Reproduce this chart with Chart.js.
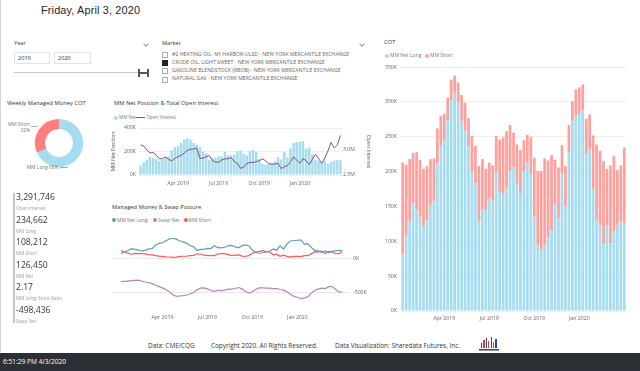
<!DOCTYPE html>
<html><head><meta charset="utf-8">
<script src="https://cdn.jsdelivr.net/npm/chart.js@4.4.1/dist/chart.umd.min.js"></script>
<style>
html,body{margin:0;padding:0;background:#fff;}
body{width:640px;height:371px;position:relative;overflow:hidden;font-family:"Open Sans",sans-serif;color:#333;}
.a{position:absolute;white-space:nowrap;line-height:1;}
canvas{position:absolute;}
.dot{position:absolute;width:4px;height:4px;border-radius:50%;}
.chev{position:absolute;width:3px;height:3px;border-right:1px solid #999;border-bottom:1px solid #999;transform:rotate(45deg);}
.cb{position:absolute;left:162px;width:4px;height:4px;border:0.8px solid #aaa;background:#fff;}
.mk{position:absolute;left:172px;font-size:5.2px;color:#666;white-space:nowrap;line-height:1;}
</style></head><body>
<div class="a" style="left:0;top:0;width:1px;height:352px;background:#d4d4d4"></div>
<div class="a" style="left:41px;top:5px;font-family:'Liberation Sans';font-size:10.9px;color:#252423;letter-spacing:0.15px">Friday, April 3, 2020</div>

<div class="a" style="left:14px;top:41px;font-size:5.6px;color:#333">Year</div>
<div class="chev" style="left:144px;top:41.5px"></div>
<div class="a" style="left:14px;top:52px;width:36px;height:12px;border:1px solid #e3e3e3;box-sizing:border-box"></div>
<div class="a" style="left:54px;top:52px;width:37px;height:12px;border:1px solid #e3e3e3;box-sizing:border-box"></div>
<div class="a" style="left:18px;top:56px;font-size:5.6px;color:#333">2019</div>
<div class="a" style="left:58px;top:56px;font-size:5.6px;color:#333">2020</div>
<div class="a" style="left:14px;top:72px;width:130px;height:1px;background:#c8c8c8"></div>
<div class="a" style="left:138px;top:69px;width:2px;height:8px;background:#555"></div>
<div class="a" style="left:147px;top:69px;width:2px;height:8px;background:#555"></div>
<div class="a" style="left:140px;top:72.3px;width:7px;height:1.6px;background:#555"></div>

<div class="a" style="left:162px;top:41px;font-size:5.6px;color:#333">Market</div>
<div class="chev" style="left:360px;top:41.5px"></div>
<div class="cb" style="top:51.5px"></div><div class="mk" style="top:51.6px">#2 HEATING OIL- NY HARBOR-ULSD - NEW YORK MERCANTILE EXCHANGE</div>
<div class="cb" style="top:60px;background:#222;border-color:#222"></div><div class="mk" style="top:60px">CRUDE OIL, LIGHT SWEET - NEW YORK MERCANTILE EXCHANGE</div>
<div class="cb" style="top:68px"></div><div class="mk" style="top:68.2px">GASOLINE BLENDSTOCK (RBOB) - NEW YORK MERCANTILE EXCHANGE</div>
<div class="cb" style="top:76.5px"></div><div class="mk" style="top:76.4px">NATURAL GAS - NEW YORK MERCANTILE EXCHANGE</div>

<div class="a" style="left:7px;top:101px;font-size:5.8px;color:#333">Weekly Managed Money COT</div>
<canvas id="c0" width="50" height="50" style="left:33.5px;top:118px"></canvas>
<div class="a" id="dShort" style="left:8px;top:121px;font-size:4.8px;color:#777;text-align:right;line-height:1.3"></div>
<div class="a" style="left:31px;top:126px;width:6px;height:0.6px;background:#aaa"></div>
<div class="a" id="dLong" style="left:27px;top:165px;font-size:4.8px;color:#777"></div>
<div class="a" style="left:60px;top:167px;width:8px;height:0.6px;background:#aaa"></div>

<div class="a" style="left:13px;top:193px;width:2px;height:130px;background:#c4c4c4"></div>
<div id="stats"></div>

<div class="a" style="left:114px;top:101px;font-size:5.8px;color:#333">MM Net Position &amp; Total Open Interest</div>
<div class="dot" style="left:114px;top:115.5px;background:#A5DCEF"></div>
<div class="a" style="left:119px;top:115px;font-size:4.6px;color:#777">MM Net</div>
<div class="a" style="left:136px;top:117px;width:9px;height:1px;background:#7E5380"></div>
<div class="a" style="left:146.5px;top:115px;font-size:4.6px;color:#777">Open Interest</div>
<canvas id="c1" width="262" height="70" style="left:110px;top:120px"></canvas>

<div class="a" style="left:112px;top:205px;font-size:5.8px;color:#333">Managed Money &amp; Swap Posture</div>
<div class="dot" style="left:112px;top:218px;background:#5E9DBA"></div>
<div class="a" style="left:117px;top:217.5px;font-size:4.9px;color:#777">MM Net Long</div>
<div class="dot" style="left:153px;top:218px;background:#B683BA"></div>
<div class="a" style="left:158px;top:217.5px;font-size:4.9px;color:#777">Swap Net</div>
<div class="dot" style="left:183.5px;top:218px;background:#FF5757"></div>
<div class="a" style="left:188.5px;top:217.5px;font-size:4.9px;color:#777">MM Short</div>
<canvas id="c2" width="262" height="103" style="left:110px;top:222px"></canvas>

<div class="a" style="left:384px;top:40px;font-size:5.8px;color:#333">COT</div>
<div class="dot" style="left:385px;top:53.5px;background:#A5DCEF"></div>
<div class="a" style="left:390px;top:53px;font-size:5px;color:#777">MM Net Long</div>
<div class="dot" style="left:425px;top:53.5px;background:#FFA09D"></div>
<div class="a" style="left:430px;top:53px;font-size:5px;color:#777">MM Short</div>
<canvas id="c3" width="262" height="270" style="left:370px;top:60px"></canvas>

<div class="a" style="left:148px;top:343px;font-size:6.4px;color:#333">Data: CME/CQG</div>
<div class="a" style="left:211px;top:343px;font-size:6.4px;color:#333">Copyright 2020. All Rights Reserved.</div>
<div class="a" style="left:335px;top:343px;font-size:6.4px;color:#333">Data Visualization: Sharedata Futures, Inc.</div>
<div id="logo" class="a" style="left:478px;top:337px;width:22px;height:15px"></div>

<div class="a" style="left:0;top:353px;width:640px;height:18px;background:#2C3036"></div>
<div class="a" style="left:3px;top:359px;font-size:6.6px;color:#fff">6:51:29 PM 4/3/2020</div>

<script>
// ---- data ----
const weeks = ['2019-01-08','2019-01-15','2019-01-22','2019-01-29','2019-02-05','2019-02-12','2019-02-19','2019-02-26',
'2019-03-05','2019-03-12','2019-03-19','2019-03-26','2019-04-02','2019-04-09','2019-04-16','2019-04-23','2019-04-30',
'2019-05-07','2019-05-14','2019-05-21','2019-05-28','2019-06-04','2019-06-11','2019-06-18','2019-06-25',
'2019-07-02','2019-07-09','2019-07-16','2019-07-23','2019-07-30','2019-08-06','2019-08-13','2019-08-20','2019-08-27',
'2019-09-03','2019-09-10','2019-09-17','2019-09-24','2019-10-01','2019-10-08','2019-10-15','2019-10-22','2019-10-29',
'2019-11-05','2019-11-12','2019-11-19','2019-11-26','2019-12-03','2019-12-10','2019-12-17','2019-12-24','2019-12-31',
'2020-01-07','2020-01-14','2020-01-21','2020-01-28','2020-02-04','2020-02-11','2020-02-18','2020-02-25',
'2020-03-03','2020-03-10','2020-03-17','2020-03-24','2020-03-31'];
const quarterTickIndex = [12,25,38,51];
const quarterTickText = ['Apr 2019','Jul 2019','Oct 2019','Jan 2020'];
// thousands of contracts
const mmNetLong = [81,108,129,155,146,135,121,131,152,157,212,237,245,274,302,313,300,272,258,236,
200,183,129,146,145,161,158,199,171,168,177,201,206,182,168,201,213,197,135,95,
87,94,105,116,153,133,198,150,228,272,279,283,288,225,232,175,131,123,96,123,
97,114,123,129,126.45];
const mmShort = [132,102,89,72,82,82,83,77,66,62,50,43,38,32,30,25,28,38,41,41,
51,54,79,72,59,52,51,52,75,81,81,66,50,57,63,44,40,53,85,106,
114,125,111,108,64,73,40,58,39,29,39,38,37,51,50,77,108,107,119,81,
112,108,79,80,108.21];
const swapNet = [-343,-338,-333,-328,-323,-318,-333,-348,-358,-372,-397,-417,-436,-466,-495,-539,-564,-559,-554,-544,
-529,-505,-466,-441,-436,-451,-475,-490,-470,-480,-470,-456,-456,-446,-431,-451,-490,-515,-495,-456,
-436,-436,-441,-441,-446,-446,-461,-470,-500,-534,-564,-578,-598,-588,-573,-515,-475,-456,-441,-446,
-421,-412,-456,-500,-498.44];
// millions of contracts
const openInterest = [3.100,3.081,3.001,2.941,2.948,2.900,2.821,2.827,2.861,2.814,2.781,2.834,2.868,2.894,2.941,2.994,3.014,3.021,3.040,2.834,
2.834,2.868,2.888,2.787,2.760,2.755,2.801,2.821,2.827,2.847,2.767,2.734,2.634,2.654,2.727,2.755,2.748,2.767,2.787,2.821,
2.787,2.727,2.714,2.721,2.734,2.627,2.668,2.688,2.767,2.861,2.794,2.734,2.827,2.787,2.707,2.814,2.914,2.834,2.727,2.841,
2.981,3.154,3.040,3.100,3.292];
const donutLabels = ['MM Long','MM Short'];
const donutValues = [234662,108212];
const statValues = ['3,291,746','234,662','108,212','126,450','2.17','-498,436'];
const statLabels = ['Open Interest','MM Long','MM Short','MM Net','MM Long: Short Ratio','Swap Net'];
const netPosTicks = [0,200,400];
const oiTicks = [2.5,3.0];
const swapTicks = [0,-500];

// ---- colours ----
const BLUE='#A5DCEF', RED='#FFA09D', OI='#7E5380', L_BLUE='#5E9DBA', L_PURP='#B683BA', L_RED='#FF5757';
const TICK='#666';
Chart.defaults.font.family='"Open Sans", sans-serif';
Chart.defaults.animation=false;
Chart.defaults.responsive=false;
Chart.defaults.devicePixelRatio=1;
Chart.defaults.plugins.legend.display=false;
Chart.defaults.plugins.tooltip.enabled=false;

const qLabel = i => { const k = quarterTickIndex.indexOf(i); return k>=0 ? quarterTickText[k] : ''; };

// stats
let sh='';
const sTop=[192.5,215.5,238,260.5,283,305.5];
statValues.forEach((v,i)=>{
  sh+=`<div class="a" style="left:16px;top:${sTop[i]}px;font-size:8.6px;color:#333">${v}</div>`;
  sh+=`<div class="a" style="left:16px;top:${sTop[i]+13}px;font-size:4.6px;color:#9a9a9a">${statLabels[i]}</div>`;
});
document.getElementById('stats').innerHTML=sh;

// donut labels
const tot = donutValues[0]+donutValues[1];
document.getElementById('dShort').innerHTML = donutLabels[1]+'<br>'+Math.round(donutValues[1]/tot*100)+'%';
document.getElementById('dLong').textContent = donutLabels[0]+' '+Math.round(donutValues[0]/tot*100)+'%';

// logo
const lh=[5,8,10,7,11,6,9];
let lg='';
lh.forEach((h,i)=>{ lg+=`<div class="a" style="left:${3+i*2.4}px;top:${11-h}px;width:1.2px;height:${h}px;background:${i%2?'#D23A3A':'#2B4A9A'}"></div>`; });
lg+='<div class="a" style="left:1px;top:11.5px;width:20px;height:0.8px;background:#2B4A9A"></div>';
lg+='<div class="a" style="left:1px;top:13px;width:20px;height:0.6px;background:#999"></div>';
document.getElementById('logo').innerHTML=lg;

// donut
new Chart(document.getElementById('c0'),{type:'doughnut',
  data:{labels:donutLabels,datasets:[{data:donutValues,backgroundColor:[BLUE,'#FF7F7F'],borderWidth:0}]},
  options:{cutout:'58%',layout:{padding:1}}});

// chart 1: MM net position & OI
new Chart(document.getElementById('c1'),{
  data:{labels:weeks,datasets:[
    {type:'line',data:openInterest,yAxisID:'y2',borderColor:OI,borderWidth:1,pointRadius:0,tension:0},
    {type:'bar',data:mmNetLong,yAxisID:'y',backgroundColor:BLUE,barPercentage:0.8,categoryPercentage:1}
  ]},
  options:{layout:{padding:{top:8,left:0,right:0,bottom:0}},
    scales:{
      x:{grid:{display:false,drawTicks:false},border:{display:false},
         ticks:{autoSkip:false,maxRotation:0,font:{size:5.2},color:TICK,padding:5,callback:(v,i)=>qLabel(i)},
         afterFit:s=>{s.height=15;}},
      y:{position:'left',min:0,max:400,
         afterBuildTicks:s=>{s.ticks=netPosTicks.map(v=>({value:v}));},
         ticks:{font:{size:5.2},color:TICK,padding:3,callback:v=>v+'K'},
         grid:{color:'#eeeeee',drawTicks:false},border:{display:false},
         title:{display:true,text:'MM Net Position',font:{size:5.2},color:'#555',padding:0},
         afterFit:s=>{s.width=29;}},
      y2:{position:'right',min:2.5,max:3.44,
         afterBuildTicks:s=>{s.ticks=oiTicks.map(v=>({value:v}));},
         ticks:{font:{size:5.2},color:TICK,padding:1,callback:v=>v.toFixed(1)+'M'},
         grid:{display:false,drawTicks:false},border:{display:false},
         title:{display:true,text:'Open Interest',font:{size:5.2},color:'#555',padding:0},
         afterFit:s=>{s.width=30;}}
    }}
});

// chart 2: MM & swap posture
const pts = arr => arr.map((v,i)=>({x:i,y:v}));
new Chart(document.getElementById('c2'),{type:'line',
  data:{datasets:[
    {data:pts(mmNetLong),borderColor:L_BLUE,borderWidth:1.2,pointRadius:0},
    {data:pts(swapNet),borderColor:L_PURP,borderWidth:1.2,pointRadius:0},
    {data:pts(mmShort),borderColor:L_RED,borderWidth:1.2,pointRadius:0}
  ]},
  options:{layout:{padding:{top:4,left:2,right:0,bottom:0}},
    scales:{
      x:{type:'linear',min:-2.6,max:66.2,grid:{display:false,drawTicks:false},border:{display:false},
         afterBuildTicks:s=>{s.ticks=quarterTickIndex.map(v=>({value:v}));},
         ticks:{font:{size:5.2},color:TICK,padding:6,maxRotation:0,callback:v=>qLabel(v)},
         afterFit:s=>{s.height=17;}},
      y:{position:'right',min:-740,max:466,
         afterBuildTicks:s=>{s.ticks=swapTicks.map(v=>({value:v}));},
         ticks:{font:{size:5.2},color:TICK,padding:3,callback:v=>v+'K'},
         grid:{color:'#e9e9e9',drawTicks:false},border:{display:false},
         afterFit:s=>{s.width=22;}}
    }}
});

// chart 3: COT stacked
new Chart(document.getElementById('c3'),{type:'bar',
  data:{labels:weeks,datasets:[
    {label:'MM Net Long',data:mmNetLong,backgroundColor:BLUE,barPercentage:0.78,categoryPercentage:1},
    {label:'MM Short',data:mmShort,backgroundColor:RED,barPercentage:0.78,categoryPercentage:1}
  ]},
  options:{layout:{padding:{top:7,right:6,left:0,bottom:0}},
    scales:{
      x:{stacked:true,grid:{display:false,drawTicks:false},border:{display:false},
         ticks:{autoSkip:false,maxRotation:0,font:{size:5.2},color:TICK,padding:4,callback:(v,i)=>qLabel(i)},
         afterFit:s=>{s.height=19;}},
      y:{stacked:true,min:0,max:350,ticks:{stepSize:50,font:{size:5.2},color:TICK,padding:4,callback:v=>v+'K'},
         grid:{color:'#eeeeee',drawTicks:false},border:{display:false},
         afterFit:s=>{s.width=31;}}
    }}
});
</script>
</body></html>
